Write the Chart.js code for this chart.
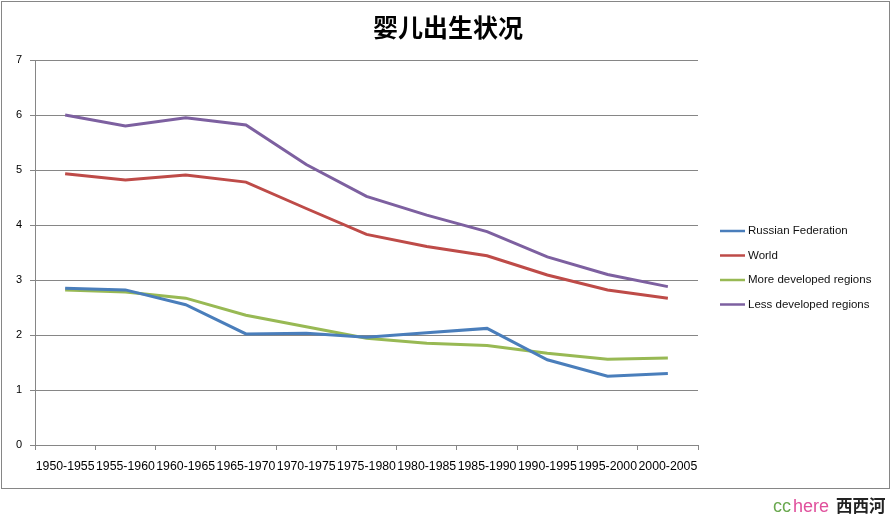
<!DOCTYPE html>
<html>
<head>
<meta charset="utf-8">
<script src="https://cdn.jsdelivr.net/npm/chart.js@4"></script>
<style>
  body { margin: 0; background: #fff; }
  #wrap { position: relative; width: 896px; height: 517px; }
  #mark { position: absolute; left: 773px; top: 493px; font: 18px "Liberation Sans", sans-serif; white-space: nowrap; }
  #mark .cc { color: #6aa84f; }
  #mark .here { color: #e0509c; margin-left: 2px; }
  #mark .cn { color: #222; font-family: "Noto Sans CJK SC", sans-serif; font-weight: bold; font-size: 16.5px; margin-left: 2px; }
</style>
</head>
<body>
<div id="wrap">
  <canvas id="fertilityChart" width="896" height="517"></canvas>
  <div id="mark"><span class="cc">cc</span><span class="here">here</span> <span class="cn">西西河</span></div>
</div>
<script>
const periods = ['1950-1955', '1955-1960', '1960-1965', '1965-1970', '1970-1975', '1975-1980',
                 '1980-1985', '1985-1990', '1990-1995', '1995-2000', '2000-2005'];
const russia = [2.85, 2.82, 2.55, 2.02, 2.03, 1.96, 2.04, 2.12, 1.55, 1.25, 1.30];
const world = [4.93, 4.82, 4.91, 4.78, 4.30, 3.83, 3.61, 3.44, 3.09, 2.82, 2.67];
const moreDeveloped = [2.82, 2.78, 2.67, 2.36, 2.15, 1.94, 1.85, 1.81, 1.67, 1.56, 1.58];
const lessDeveloped = [6.00, 5.80, 5.95, 5.82, 5.10, 4.52, 4.18, 3.88, 3.42, 3.10, 2.88];

const gridGray = '#868686';

// marco exterior + leyenda a la derecha
const frame = {
    id: 'frame',
    beforeDraw(chart) {
        const c = chart.ctx;
        c.save();
        c.strokeStyle = gridGray;
        c.lineWidth = 1;
        c.strokeRect(1.5, 1.5, 888, 487);
        c.restore();
    },
    afterDraw(chart) {
        const c = chart.ctx;
        c.save();
        c.font = '11.5px "Liberation Sans", sans-serif';
        c.textBaseline = 'middle';
        chart.data.datasets.forEach((ds, i) => {
            const y = 231 + i * 24.5;
            c.strokeStyle = ds.borderColor;
            c.lineWidth = 2.5;
            c.beginPath();
            c.moveTo(720, y);
            c.lineTo(745, y);
            c.stroke();
            c.fillStyle = '#111';
            c.fillText(ds.label, 748, y);
        });
        c.restore();
    }
};

const ctx = document.getElementById('fertilityChart').getContext('2d');
const chart = new Chart(ctx, {
    type: 'line',
    data: {
        labels: periods,
        datasets: [
            { label: 'Russian Federation', data: russia, borderColor: '#4a7ebb' },
            { label: 'World', data: world, borderColor: '#be4b48' },
            { label: 'More developed regions', data: moreDeveloped, borderColor: '#98b954' },
            { label: 'Less developed regions', data: lessDeveloped, borderColor: '#7d60a0' }
        ]
    },
    options: {
        responsive: false,
        animation: false,
        datasets: { line: { borderWidth: 3, pointRadius: 0, tension: 0, fill: false } },
        layout: { padding: { left: 0, right: 0, top: 0, bottom: 28 } },
        plugins: {
            legend: { display: false },
            tooltip: { enabled: false },
            title: {
                display: true,
                text: '婴儿出生状况',
                color: '#000',
                font: { family: '"Noto Sans CJK SC", sans-serif', size: 25, weight: 'bold' },
                padding: { top: 12, bottom: 18 }
            }
        },
        scales: {
            x: {
                offset: true,
                grid: { offset: true, drawOnChartArea: false, color: gridGray, tickLength: 5 },
                border: { color: gridGray },
                ticks: {
                    autoSkip: false, maxRotation: 0, minRotation: 0, padding: 9,
                    color: '#000', font: { family: '"Liberation Sans", sans-serif', size: 12.3 }
                },
                afterFit(scale) { scale.height = 44; }
            },
            y: {
                min: 0,
                max: 7,
                grid: { color: gridGray, tickLength: 5 },
                border: { color: gridGray },
                ticks: {
                    stepSize: 1, padding: 8,
                    color: '#000', font: { family: '"Liberation Sans", sans-serif', size: 11 }
                },
                afterFit(scale) { scale.width = 35; }
            },
            // hueco vacío a la derecha para la leyenda
            side: {
                position: 'right',
                min: 0,
                max: 7,
                grid: { display: false },
                border: { display: false },
                ticks: { display: false },
                afterFit(scale) { scale.width = 198; }
            }
        }
    },
    plugins: [frame]
});
</script>
</body>
</html>
